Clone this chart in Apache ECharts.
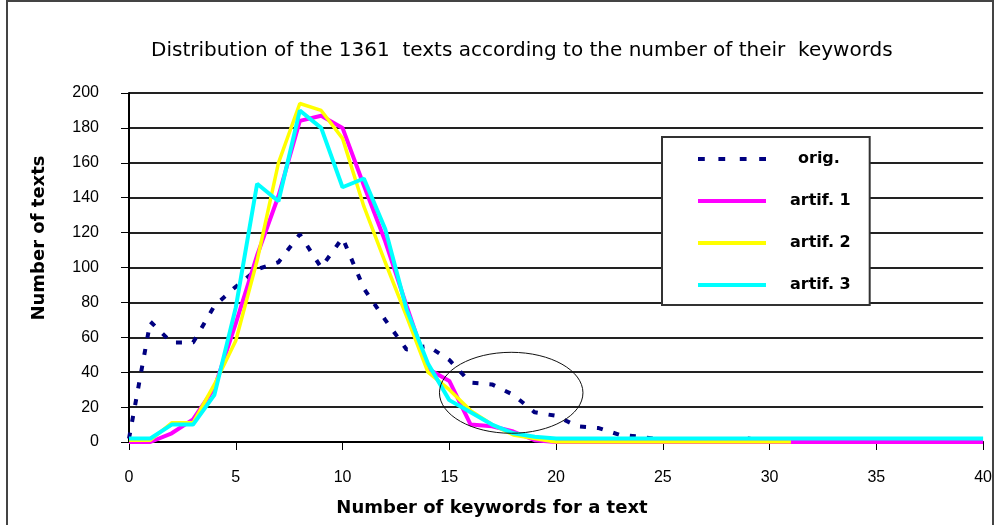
<!DOCTYPE html>
<html><head><meta charset="utf-8">
<script src="https://cdn.jsdelivr.net/npm/echarts@6/dist/echarts.min.js"></script>
<style>html,body{margin:0;padding:0;background:#fff}#c{width:995px;height:525px}</style>
</head><body><div id="c"></div>
<script>
// x categories: number of keywords (0..40)
const xValues = [0,1,2,3,4,5,6,7,8,9,10,11,12,13,14,15,16,17,18,19,20,21,22,23,24,25,26,27,28,29,30,31,32,33,34,35,36,37,38,39,40];
const seriesNames = ['orig.', 'artif. 1', 'artif. 2', 'artif. 3'];
const orig    = [2,69,57,57,78,89,99,103,119,100,117,88,70,53,55,47,34,33,27,17,15,9,8,4,3,1,0,0,0,2,0,0,0,0,0,0,0,0,0,0,0];
const artif1  = [0,0,5,13,31,68,107,141,184,187,180,147,115,78,42,35,10,9,6,1,0,0,0,0,0,0,0,0,0,0,0,0,0,0,0,0,0,0,0,0,0];
const artif2  = [1,1,11,11,33,58,104,160,194,190,174,135,103,72,40,30,18,10,4,2,0,0,0,0,0,0,0,0,0,0,0,0];
const artif3  = [2,2,10,10,27,77,148,138,190,180,146,151,122,76,45,24,17,10,5,3,2,2,2,2,2,2,2,2,2,2,2,2,2,2,2,2,2,2,2,2,2];
const yTicks = [0,20,40,60,80,100,120,140,160,180,200];
// highlighted region (ellipse) in data units: centre x, centre y, radius x, radius y
const ellipseData = [17.9, 28.2, 3.36, 23.2];

const FONT = '"Liberation Sans", Arial, sans-serif';
const WFONT = '"DejaVu Sans", Verdana, sans-serif';
const pairs = arr => arr.map((v, i) => [xValues[i], v]);

const DASH_ICON = 'path://M0,0h7v4h-7z M21,0h7v4h-7z M43,0h7v4h-7z M63,0h7v4h-7z';
const SOLID_ICON = 'path://M0,0h70v4h-70z';

const chart = echarts.init(document.getElementById('c'), null, {renderer: 'canvas'});
const option = {
  animation: false,
  backgroundColor: '#fff',
  title: {
    text: 'Distribution of the 1361  texts according to the number of their  keywords',
    left: 146, top: 36,
    textStyle: {fontFamily: WFONT, fontSize: 20, fontWeight: 'normal', color: '#000'}
  },
  grid: {left: 129, right: 8, top: 93, bottom: 83, containLabel: false},
  xAxis: {
    type: 'value', min: 0, max: 40, interval: 5,
    axisLine: {show: true, lineStyle: {color: '#000', width: 2}},
    axisTick: {show: true, length: 8, lineStyle: {color: '#000', width: 1}},
    axisLabel: {margin: 28, fontFamily: FONT, fontSize: 16, color: '#000'},
    splitLine: {show: false}
  },
  yAxis: {
    type: 'value', min: yTicks[0], max: yTicks[yTicks.length - 1], interval: 20,
    axisLine: {show: true, lineStyle: {color: '#000', width: 2}},
    axisTick: {show: true, length: 8, lineStyle: {color: '#000', width: 1}},
    axisLabel: {margin: 30, fontFamily: FONT, fontSize: 16, color: '#000'},
    splitLine: {show: true, lineStyle: {color: '#222', width: 2}}
  },
  legend: {
    orient: 'vertical', left: 662, top: 137,
    padding: [12, 19, 10, 36],
    backgroundColor: '#fff', borderColor: '#333', borderWidth: 2,
    itemWidth: 68, itemHeight: 4, itemGap: 22,
    textStyle: {fontFamily: WFONT, fontSize: 16, fontWeight: 'bold', color: '#000',
      padding: [0, 0, 0, 19], lineHeight: 20},
    data: [
      {name: seriesNames[0], icon: DASH_ICON, textStyle: {padding: [0, 0, 0, 27]}},
      {name: seriesNames[1], icon: SOLID_ICON},
      {name: seriesNames[2], icon: SOLID_ICON},
      {name: seriesNames[3], icon: SOLID_ICON}
    ]
  },
  series: [
    {name: seriesNames[0], type: 'line', data: pairs(orig), symbol: 'none',
     lineStyle: {color: '#000080', width: 4, type: [6, 11]}, itemStyle: {color: '#000080'}},
    {name: seriesNames[1], type: 'line', data: pairs(artif1), symbol: 'none',
     lineStyle: {color: '#ff00ff', width: 4}, itemStyle: {color: '#ff00ff'}},
    {name: seriesNames[2], type: 'line', data: pairs(artif2), symbol: 'none',
     lineStyle: {color: '#ffff00', width: 3.5}, itemStyle: {color: '#ffff00'}},
    {name: seriesNames[3], type: 'line', data: pairs(artif3), symbol: 'none',
     lineStyle: {color: '#00ffff', width: 4}, itemStyle: {color: '#00ffff'}}
  ]
};
chart.setOption(option);

const c = chart.convertToPixel({gridIndex: 0}, [ellipseData[0], ellipseData[1]]);
const e = chart.convertToPixel({gridIndex: 0}, [ellipseData[0] + ellipseData[2], ellipseData[1] + ellipseData[3]]);
chart.setOption({
  graphic: [
    {type: 'rect', shape: {x: 7, y: 1, width: 986, height: 530}, style: {fill: 'none', stroke: '#444', lineWidth: 2}, silent: true, z: 100},
    {type: 'ellipse', shape: {cx: c[0], cy: c[1], rx: Math.abs(e[0] - c[0]), ry: Math.abs(e[1] - c[1])},
     style: {fill: 'none', stroke: '#111', lineWidth: 1}, silent: true, z: 100},
    {type: 'text', x: 39, y: 238, rotation: Math.PI / 2,
     style: {text: 'Number of texts', font: 'bold 18px ' + WFONT, fill: '#000', align: 'center', verticalAlign: 'middle'}},
    {type: 'text', x: 492, y: 508,
     style: {text: 'Number of keywords for a text', font: 'bold 18px ' + WFONT, fill: '#000', align: 'center', verticalAlign: 'middle'}}
  ]
});
</script></body></html>
